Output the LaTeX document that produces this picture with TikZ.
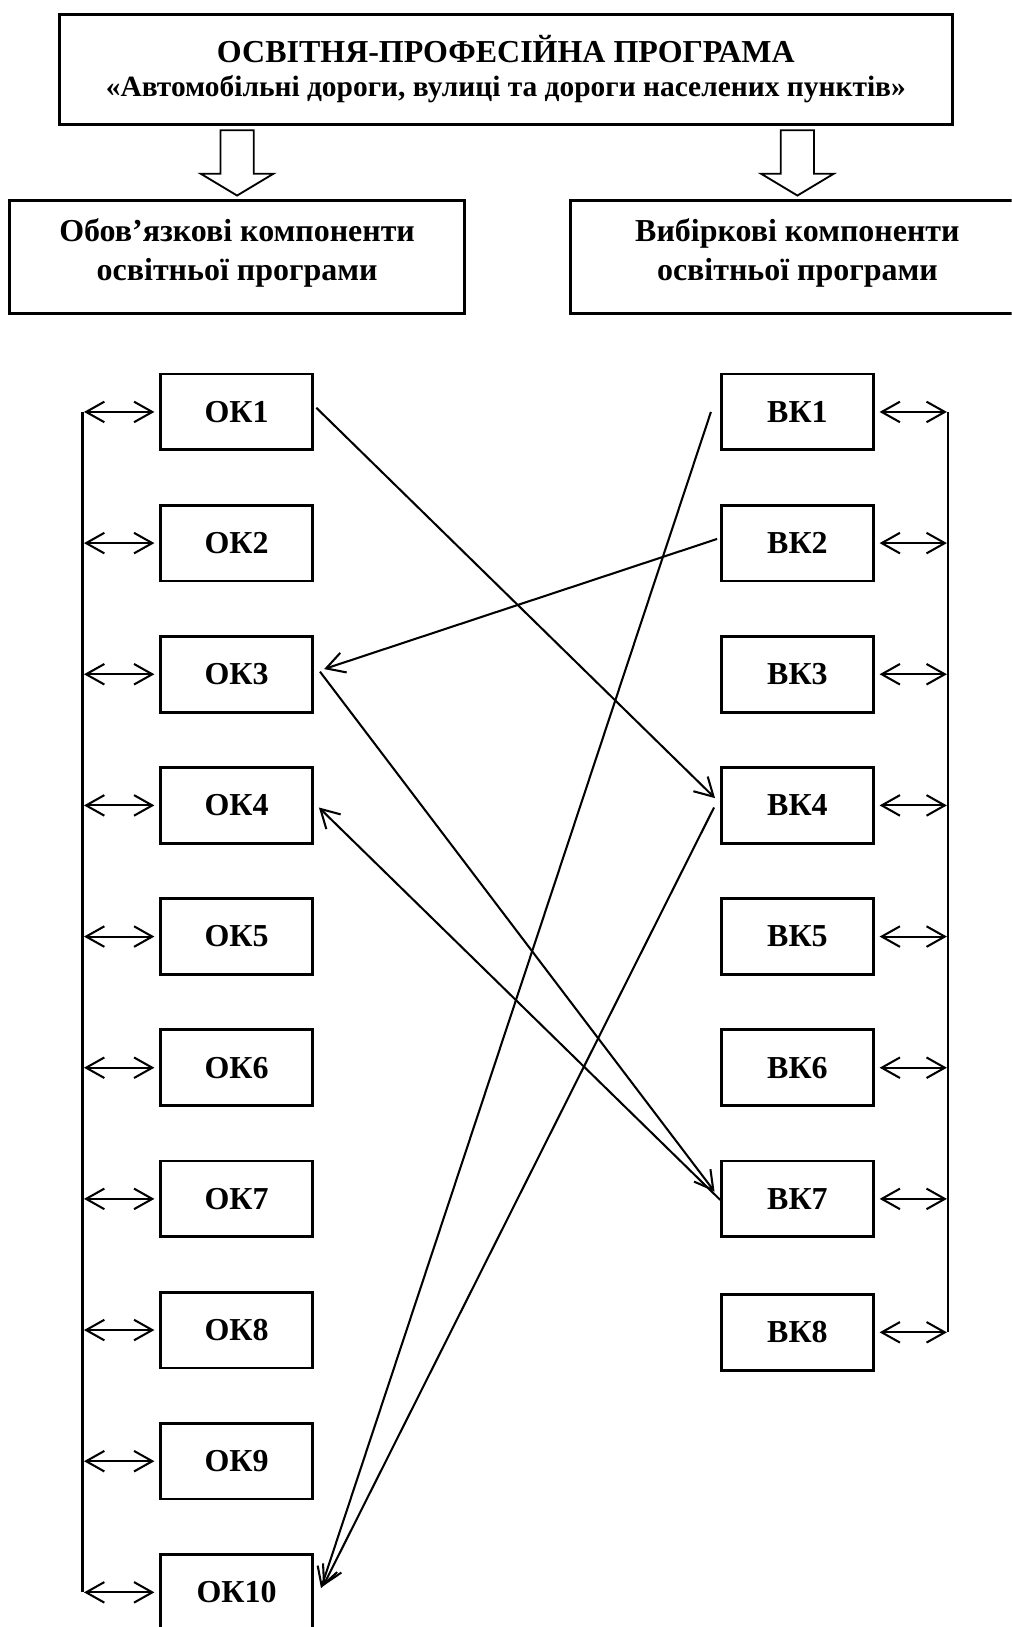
\documentclass[tikz,border=0pt]{standalone}
\usepackage{fontspec}
\setmainfont{Liberation Serif}
\usetikzlibrary{arrows.meta,calc}

\begin{document}
\begin{tikzpicture}[x=0.4545pt,y=-0.4545pt,
  every node/.style={font=\fontsize{14}{16.5}\selectfont\bfseries},
  frame/.style={draw,line width=1.2pt,inner sep=0pt,align=center},
  headbox/.style={frame,line width=1.3pt,minimum width=391.3pt,minimum height=48.2pt},
  groupbox/.style={frame,line width=1.3pt,minimum width=199.1pt,minimum height=49.5pt,
    text depth=6.6pt,font=\fontsize{14}{17.2}\selectfont\bfseries},
  compbox/.style={frame,minimum width=66.4pt,minimum height=33.2pt},
  barb/.tip={Straight Barb[length=8pt,width=9pt]},
  conn/.style={line width=0.9pt,-barb},
  dbl/.style={line width=0.9pt,barb-barb},
  bus/.style={line width=1pt},
  downarrow/.pic={\draw[line width=0.8pt,line join=miter]
    (-16,0) -- (16,0) -- (16,42) -- (35,42) -- (0,63) -- (-35,42) -- (-16,42) -- cycle;}
]
\clip (0,0) rectangle (975,1568);

% programme heading
\node[headbox] (title) at (487.5,67)
  {ОСВІТНЯ-ПРОФЕСІЙНА ПРОГРАМА\\[-1.6pt]
   {\fontsize{12.9}{15}\selectfont «Автомобільні дороги, вулиці та дороги населених пунктів»}};

% the two groups of components
\node[groupbox] (lg) at (228.5,248) {Обов’язкові компоненти\\освітньої програми};
\node[groupbox] (rg) at (768.5,248) {Вибіркові компоненти\\освітньої програми};

\pic at ($(title.south -| lg.north)+(0,4)$) {downarrow};
\pic at ($(title.south -| rg.north)+(0,4)$) {downarrow};

% compulsory components
\foreach \i in {1,...,10}
  \node[compbox] (ok\i) at (228,{397+126.4*(\i-1)}) {ОК\i};

% elective components
\foreach \i in {1,...,7}
  \node[compbox] (bk\i) at (768.5,{397+126.4*(\i-1)}) {ВК\i};
\node[compbox] (bk8) at (768.5,1284) {ВК8};

% left bus
\foreach \i in {1,...,10}
  \coordinate (lb\i) at ($(ok\i.west)+(-74,0)$);
\draw[bus] (lb1) -- (lb10);
\foreach \i in {1,...,10}
  \draw[dbl,shorten <=0.6pt,shorten >=2.2pt] (lb\i) -- (ok\i.west);

% right bus
\foreach \i in {1,...,8}
  \coordinate (rb\i) at ($(bk\i.east)+(71,0)$);
\draw[bus] (rb1) -- (rb8);
\foreach \i in {1,...,8}
  \draw[dbl,shorten <=2.2pt,shorten >=0.6pt] (bk\i.east) -- (rb\i);

% links between components
\draw[conn] ($(ok1.east)+(2.5,-4)$) -- ($(bk4.west)+(-5,-7)$);
\draw[conn] ($(bk2.west)+(-3,-4)$) -- ($(ok3.east)+(10,-5)$);
\draw[conn] ($(ok3.east)+(6,-2.5)$) -- ($(bk7.west)+(-5.5,-7)$);
\draw[conn] ($(bk7.west)+(0,1)$) -- ($(ok4.east)+(5,2)$);
\draw[conn] ($(bk1.west)+(-9,0)$) -- ($(ok10.east)+(7,-4)$);
\draw[conn] ($(bk4.west)+(-6,2)$) -- ($(ok10.east)+(9,-6)$);
\end{tikzpicture}
\end{document}
